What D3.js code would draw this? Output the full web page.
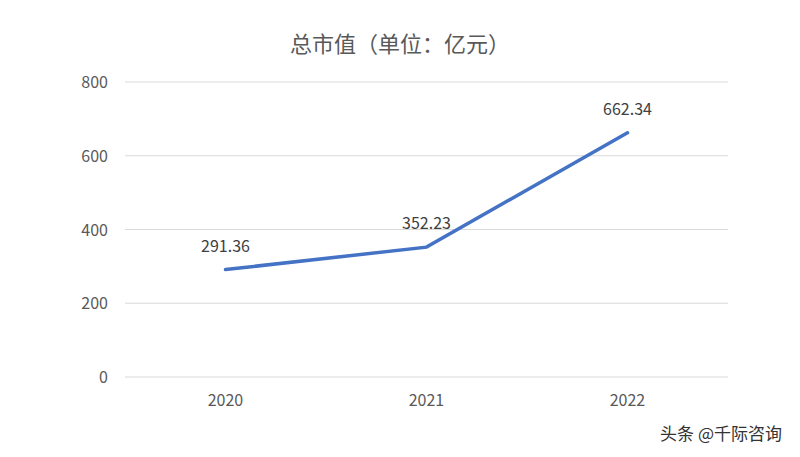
<!DOCTYPE html>
<html><head><meta charset="utf-8">
<script src="https://cdn.jsdelivr.net/npm/d3@7"></script>
<style>body{margin:0;background:#fff}</style></head>
<body><svg id="c" width="800" height="457"></svg>
<script>
const categories=["2020","2021","2022"];
const values=[291.36,352.23,662.34];
const yTicks=[0,200,400,600,800];
const title="总市值（单位：亿元）";
const svg=d3.select("#c");
const font="'Noto Sans CJK SC','Noto Sans',sans-serif";
const x=d3.scaleBand().domain(categories).range([125,728]);
const y=d3.scaleLinear().domain([0,800]).range([377,82]);
svg.append("g").selectAll("line").data(yTicks).join("line")
 .attr("x1",125).attr("x2",728).attr("y1",d=>y(d)).attr("y2",d=>y(d))
 .attr("stroke","#d9d9d9").attr("stroke-width",1);
svg.append("g").selectAll("text").data(yTicks).join("text")
 .attr("x",108).attr("y",d=>y(d)+6).attr("text-anchor","end")
 .attr("font-family",font).attr("font-size",16).attr("fill","#595959").text(d=>d);
svg.append("g").selectAll("text").data(categories).join("text")
 .attr("x",d=>x(d)+x.bandwidth()/2).attr("y",406).attr("text-anchor","middle")
 .attr("font-family",font).attr("font-size",16).attr("fill","#595959").text(d=>d);
const pts=categories.map((c,i)=>[x(c)+x.bandwidth()/2,y(values[i])]);
svg.append("path").attr("d",d3.line()(pts)).attr("fill","none")
 .attr("stroke","#4472C4").attr("stroke-width",3.5).attr("stroke-linecap","round");
svg.append("g").selectAll("text").data(values).join("text")
 .attr("x",(d,i)=>pts[i][0]).attr("y",(d,i)=>pts[i][1]-18).attr("text-anchor","middle")
 .attr("font-family",font).attr("font-size",16).attr("fill","#404040").text(d=>d.toFixed(2));
svg.append("text").attr("x",400).attr("y",52).attr("text-anchor","middle")
 .attr("font-family",font).attr("font-size",22).attr("fill","#595959").text(title);
svg.append("text").attr("x",782).attr("y",440).attr("text-anchor","end")
 .attr("font-family",font).attr("font-size",17).attr("fill","#333")
 .attr("stroke","#fff").attr("stroke-width",2).attr("paint-order","stroke").text("头条 @千际咨询");
</script></body></html>
